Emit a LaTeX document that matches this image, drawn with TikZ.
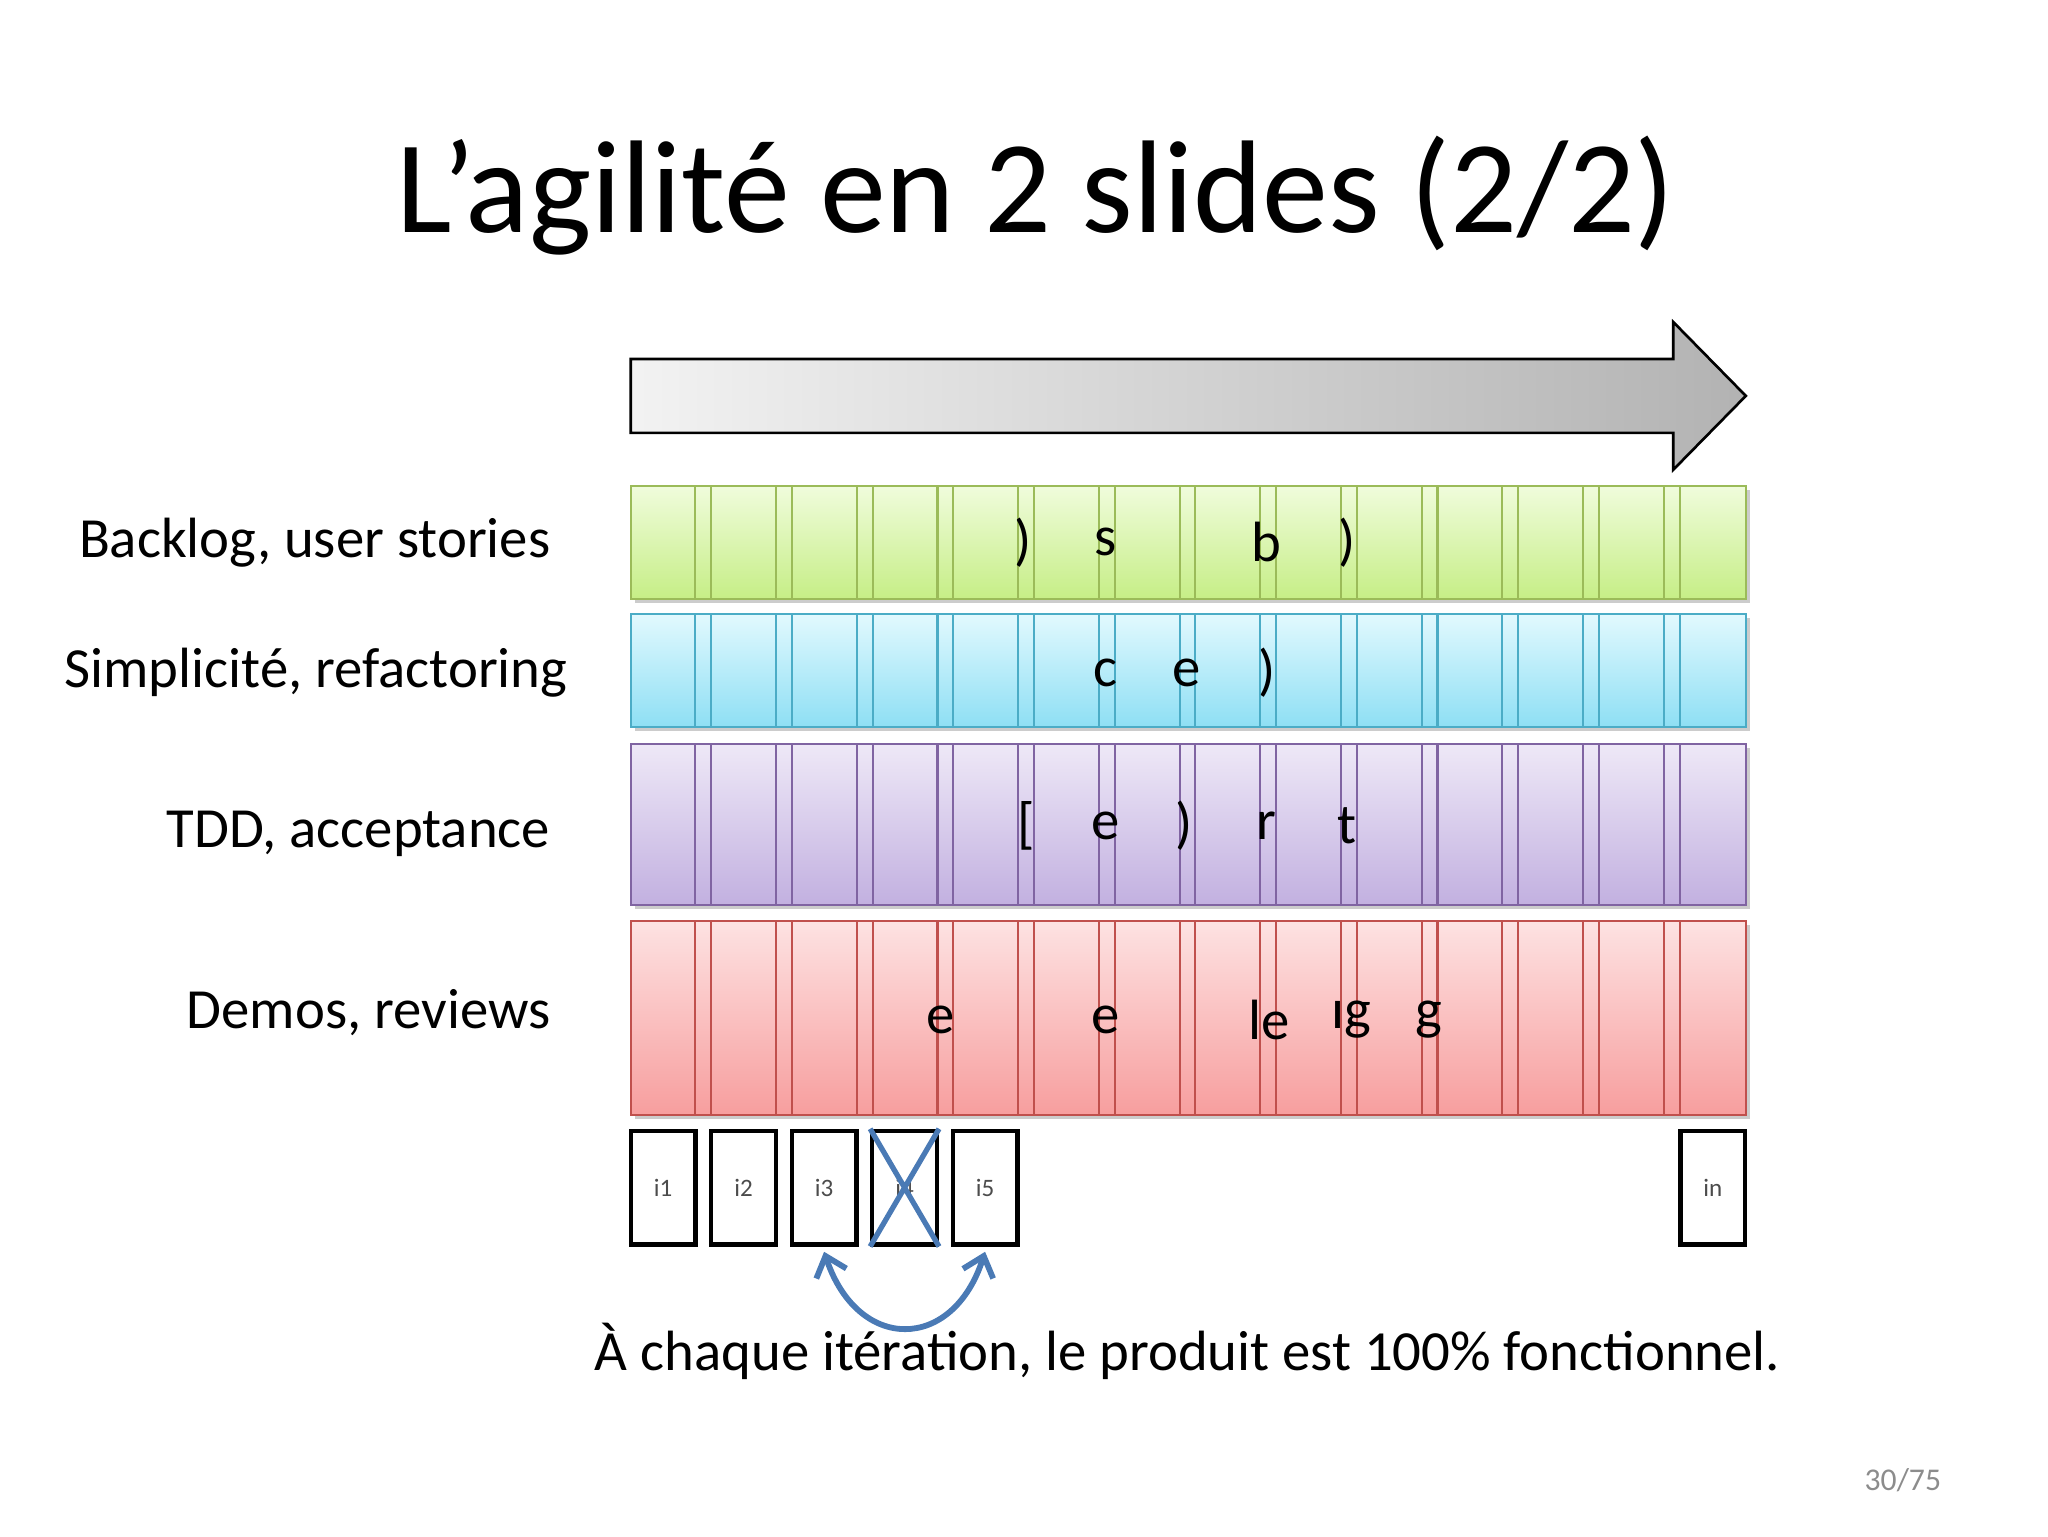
\documentclass[tikz,border=0pt]{standalone}
\usepackage{fontspec}
\setmainfont{Carlito}
\usetikzlibrary{arrows.meta}
\definecolor{gB}{HTML}{9BBB59}\definecolor{gT}{HTML}{F0FCDC}\definecolor{gD}{HTML}{C6EE86}
\definecolor{bB}{HTML}{4BACC6}\definecolor{bT}{HTML}{E2F9FE}\definecolor{bD}{HTML}{8EDFF4}
\definecolor{pB}{HTML}{8064A2}\definecolor{pT}{HTML}{EEE8F7}\definecolor{pD}{HTML}{C2B0E0}
\definecolor{rB}{HTML}{C0504D}\definecolor{rT}{HTML}{FDE2E2}\definecolor{rD}{HTML}{F79E9E}
\definecolor{arc}{HTML}{4A7AB5}
\tikzset{lab/.style={anchor=east,font=\fontsize{21.5}{24}\selectfont},
frag/.style={font=\fontsize{21.5}{24}\selectfont},
ibox/.style={draw=black,line width=1.6pt,minimum width=24.5pt,minimum height=43pt,inner sep=0pt,font=\fontsize{9.5}{11}\selectfont\color{black!70}}}
\begin{document}
\begin{tikzpicture}[x=0.5pt,y=-0.5pt]
\useasboundingbox (0,0) rectangle (1552,1164);
\node (title) at (785,148) {\fontsize{50}{56}\selectfont L’agilité en 2 slides (2/2)};
% arrow
\shade[left color=black!5,right color=black!30,draw=black,line width=1pt]
 (478,272) -- (1268,272) -- (1268,244) -- (1323,300) -- (1268,356) -- (1268,328) -- (478,328) -- cycle;
% strips
\def\strip#1#2#3#4#5{%
 \fill[black!20] (481,#1+3) rectangle (1326,#2+3);
 \shade[top color=#4,bottom color=#5,draw=#3,line width=0.8pt] (478,#1) rectangle (1323,#2);
 \foreach \k in {0,...,12}{\draw[#3,line width=0.8pt] (527+61.15*\k,#1) -- (527+61.15*\k,#2) (539+61.15*\k,#1) -- (539+61.15*\k,#2);}}
\strip{368}{454}{gB}{gT}{gD}
\strip{465}{551}{bB}{bT}{bD}
\strip{564}{686}{pB}{pT}{pD}
\strip{698}{845}{rB}{rT}{rD}
% fragments
\foreach \x/\t in {775/),838/s,960/b,1021/)} \node[frag] at (\x,411) {\t};
\foreach \x/\t in {838/c,899/e,960/)} \node[frag] at (\x,510) {\t};
\foreach \x/\t in {778/[,838/e,897/),960/r,1021/t} \node[frag] at (\x,626) {\t};
\foreach \x/\t in {713/e,838/e,962/le,1024/ıg,1083/g} \node[frag] at (\x,773) {\t};
% labels
\node[lab] (l1) at (424,411) {Backlog, user stories};
\node[lab] (l2) at (437,510) {Simplicité, refactoring};
\node[lab] (l3) at (424,632) {TDD, acceptance};
\node[lab] (l4) at (424,767) {Demos, reviews};
% iterations
\node[ibox] (i1) at (502.5,900) {i1};
\node[ibox] (i2) at (563.5,900) {i2};
\node[ibox] (i3) at (624.5,900) {i3};
\node[ibox] (i4) at (685.5,900) {i4};
\node[ibox] (i5) at (746.5,900) {i5};
\node[ibox] (in) at (1298,900) {in};
\draw[arc,line width=2pt] (i4.north west) -- (i4.south east) (i4.north east) -- (i4.south west);
\draw[arc,line width=2.2pt,{Straight Barb[length=7pt,width=12pt]}-{Straight Barb[length=7pt,width=12pt]}]
 ([yshift=-2pt]i3.south) .. controls (650,1025) and (722,1025) .. ([yshift=-2pt]i5.south);
\node (cap) at (900,1024) {\fontsize{21.5}{24}\selectfont À chaque itération, le produit est 100\% fonctionnel.};
\node[text=black!45] (pg) at (1442,1122) {\fontsize{12}{14}\selectfont 30/75};
\end{tikzpicture}
\end{document}
